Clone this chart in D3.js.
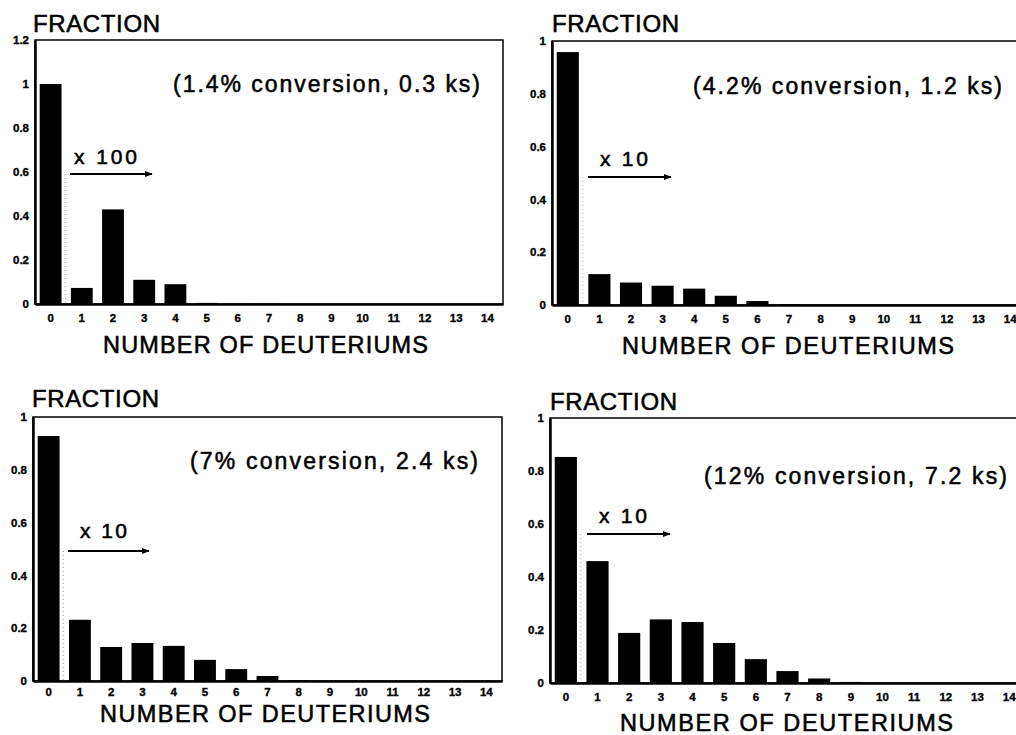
<!DOCTYPE html>
<html>
<head>
<meta charset="utf-8">
<script src="https://cdn.jsdelivr.net/npm/d3@7"></script>
<style>
  html, body { margin: 0; padding: 0; background: #fff; }
  svg { display: block; }
  text { font-family: "Liberation Sans", Arial, Helvetica, sans-serif; fill: #000; }
  .tick text { font-weight: bold; font-size: 11.5px; stroke: #000; stroke-width: 0.35px; }
  .big { stroke: #000; stroke-width: 0.55px; }
</style>
</head>
<body>
<svg id="chart" width="1016" height="735"></svg>
<script>
// ---------------- data ----------------
const categories = ["0","1","2","3","4","5","6","7","8","9","10","11","12","13","14"];

// fraction of molecules with n deuteriums (bars 1..14 shown magnified)
const fraction14pct = [1.00, 0.073, 0.43, 0.11, 0.09, 0.005, 0.002, 0.001, 0, 0, 0, 0, 0, 0, 0];
const fraction42pct = [0.958, 0.117, 0.085, 0.073, 0.062, 0.035, 0.015, 0.003, 0.001, 0, 0, 0, 0, 0, 0];
const fraction7pct  = [0.928, 0.232, 0.129, 0.144, 0.133, 0.080, 0.045, 0.019, 0.003, 0.001, 0, 0, 0, 0, 0];
const fraction12pct = [0.853, 0.460, 0.189, 0.240, 0.230, 0.151, 0.090, 0.045, 0.017, 0.004, 0.001, 0, 0, 0, 0];

const yTicksTall = [0, 0.2, 0.4, 0.6, 0.8, 1, 1.2];
const yTicksShort = [0, 0.2, 0.4, 0.6, 0.8, 1];
const yTickLabelsTall = ["0", "0.2", "0.4", "0.6", "0.8", "1", "1.2"];
const yTickLabelsShort = ["0", "0.2", "0.4", "0.6", "0.8", "1"];

const conditionLabels = ["(1.4% conversion, 0.3 ks)", "(4.2% conversion, 1.2 ks)", "(7% conversion, 2.4 ks)", "(12% conversion, 7.2 ks)"];
const magnifierLabels = ["x 100", "x 10", "x 10", "x 10"];
const yAxisTitle = "FRACTION";
const xAxisTitle = "NUMBER OF DEUTERIUMS";

// ---------------- layout ----------------
const panels = [
  { values: fraction14pct, ticks: yTicksTall, tickLabels: yTickLabelsTall, yMax: 1.2,
    note: conditionLabels[0], mag: magnifierLabels[0],
    left: 35, right: 503, top: 40, bottom: 304, xPad: 10,
    yTitle: {x: 33, y: 32, w: 127}, xTitle: {x: 103, y: 353, w: 325},
    noteBox: {x: 173, y: 92, w: 307}, magBox: {x: 74, y: 164, w: 63}, arrow: {x1: 70, x2: 152, y: 174} },
  { values: fraction42pct, ticks: yTicksShort, tickLabels: yTickLabelsShort, yMax: 1,
    note: conditionLabels[1], mag: magnifierLabels[1],
    left: 552, right: 1026, top: 41, bottom: 305, xPad: 10,
    yTitle: {x: 552, y: 32, w: 127}, xTitle: {x: 622, y: 354, w: 332},
    noteBox: {x: 693, y: 94, w: 309}, magBox: {x: 600, y: 166, w: 48}, arrow: {x1: 588, x2: 671, y: 177} },
  { values: fraction7pct, ticks: yTicksShort, tickLabels: yTickLabelsShort, yMax: 1,
    note: conditionLabels[2], mag: magnifierLabels[2],
    left: 33, right: 502, top: 417, bottom: 681, xPad: 7,
    yTitle: {x: 32, y: 407, w: 127}, xTitle: {x: 100, y: 722, w: 330},
    noteBox: {x: 190, y: 469, w: 288}, magBox: {x: 80, y: 538, w: 47}, arrow: {x1: 68, x2: 149, y: 551} },
  { values: fraction12pct, ticks: yTicksShort, tickLabels: yTickLabelsShort, yMax: 1,
    note: conditionLabels[3], mag: magnifierLabels[3],
    left: 550, right: 1025, top: 418, bottom: 683, xPad: 10,
    yTitle: {x: 550, y: 410, w: 127}, xTitle: {x: 620, y: 731, w: 333},
    noteBox: {x: 704, y: 484, w: 303}, magBox: {x: 599, y: 523, w: 48}, arrow: {x1: 587, x2: 670, y: 534} }
];

const svg = d3.select("#chart");

svg.append("defs").append("marker")
  .attr("id", "arrowhead")
  .attr("viewBox", "0 0 10 10")
  .attr("refX", 9).attr("refY", 5)
  .attr("markerWidth", 4).attr("markerHeight", 4)
  .attr("orient", "auto")
  .append("path").attr("d", "M0,1 L10,5 L0,9 Z").attr("fill", "#000");

panels.forEach(p => {
  const g = svg.append("g");

  const x = d3.scaleBand()
    .domain(categories)
    .range([p.left, p.right])
    .paddingInner(0.3)
    .paddingOuter(0.15);

  const y = d3.scaleLinear()
    .domain([0, p.yMax])
    .range([p.bottom, p.top]);

  // frame (top and right thin lines)
  g.append("rect")
    .attr("x", p.left).attr("y", p.top)
    .attr("width", p.right - p.left).attr("height", p.bottom - p.top)
    .attr("fill", "none").attr("stroke", "#000").attr("stroke-width", 1.5);

  // dotted divider between unscaled and magnified bars
  const divX = x(categories[1]) - x.step() * x.paddingInner() / 2 - 1;
  g.append("line")
    .attr("x1", divX).attr("x2", divX)
    .attr("y1", p.arrow.y).attr("y2", p.bottom)
    .attr("stroke", "#999").attr("stroke-width", 1)
    .attr("stroke-dasharray", "1,3");

  // bars
  g.selectAll("rect.bar")
    .data(p.values.map((v, i) => ({ cat: categories[i], v })))
    .join("rect")
    .attr("class", "bar")
    .attr("x", d => x(d.cat))
    .attr("width", x.bandwidth())
    .attr("y", d => y(d.v))
    .attr("height", d => p.bottom - y(d.v))
    .attr("fill", "#000");

  // axes
  const xAxis = d3.axisBottom(x).tickSize(0).tickPadding(p.xPad);
  const xg = g.append("g").attr("transform", `translate(0,${p.bottom})`).call(xAxis);
  xg.select(".domain").attr("stroke-width", 2.5);

  const yAxis = d3.axisLeft(y)
    .tickValues(p.ticks)
    .tickFormat((d, i) => p.tickLabels[i])
    .tickSize(0).tickPadding(6);
  const yg = g.append("g").attr("transform", `translate(${p.left},0)`).call(yAxis);
  yg.select(".domain").attr("stroke-width", 2.5);

  // titles
  g.append("text").attr("class", "big")
    .attr("x", p.yTitle.x).attr("y", p.yTitle.y)
    .attr("font-size", 24)
    .attr("textLength", p.yTitle.w).attr("lengthAdjust", "spacing")
    .text(yAxisTitle);

  g.append("text").attr("class", "big")
    .attr("x", p.xTitle.x).attr("y", p.xTitle.y)
    .attr("font-size", 23.5)
    .attr("textLength", p.xTitle.w).attr("lengthAdjust", "spacing")
    .text(xAxisTitle);

  // condition note
  g.append("text").attr("class", "big")
    .attr("x", p.noteBox.x).attr("y", p.noteBox.y)
    .attr("font-size", 23)
    .attr("textLength", p.noteBox.w).attr("lengthAdjust", "spacing")
    .text(p.note);

  // magnification label and arrow
  g.append("text").attr("class", "big")
    .attr("x", p.magBox.x).attr("y", p.magBox.y)
    .attr("font-size", 21)
    .attr("textLength", p.magBox.w).attr("lengthAdjust", "spacing")
    .text(p.mag);

  g.append("line")
    .attr("x1", p.arrow.x1).attr("x2", p.arrow.x2)
    .attr("y1", p.arrow.y).attr("y2", p.arrow.y)
    .attr("stroke", "#000").attr("stroke-width", 2)
    .attr("marker-end", "url(#arrowhead)");
});
</script>
</body>
</html>
